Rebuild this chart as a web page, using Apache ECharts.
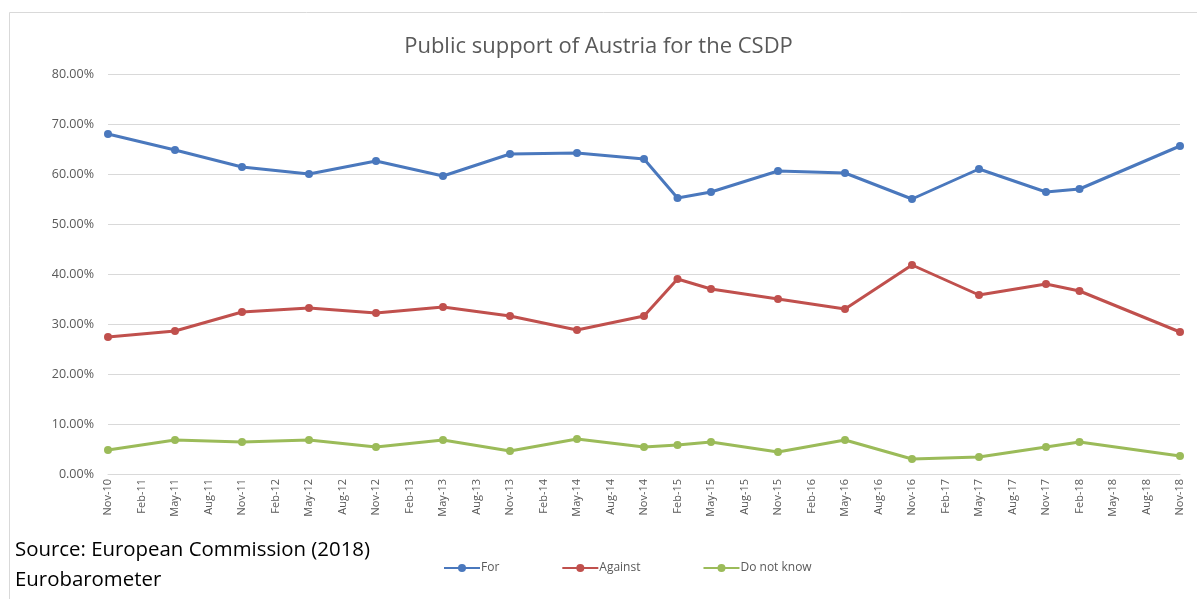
<!DOCTYPE html>
<html>
<head>
<meta charset="utf-8">
<script src="https://cdn.jsdelivr.net/npm/echarts@6/dist/echarts.min.js"></script>
<style>
html,body{margin:0;padding:0;background:#fff;}
#c{width:1197px;height:599px;}
</style>
</head>
<body>
<div id="c"></div>
<script>
const categories = ['Nov-10','Feb-11','May-11','Aug-11','Nov-11','Feb-12','May-12','Aug-12','Nov-12','Feb-13','May-13','Aug-13','Nov-13','Feb-14','May-14','Aug-14','Nov-14','Feb-15','May-15','Aug-15','Nov-15','Feb-16','May-16','Aug-16','Nov-16','Feb-17','May-17','Aug-17','Nov-17','Feb-18','May-18','Aug-18','Nov-18'];
const forValues = [68.0,null,64.8,null,61.4,null,60.0,null,62.6,null,59.6,null,64.0,null,64.2,null,63.0,55.2,56.4,null,60.6,null,60.2,null,55.0,null,61.0,null,56.4,57.0,null,null,65.6];
const againstValues = [27.4,null,28.6,null,32.4,null,33.2,null,32.2,null,33.4,null,31.6,null,28.8,null,31.6,39.0,37.0,null,35.0,null,33.0,null,41.8,null,35.8,null,38.0,36.6,null,null,28.4];
const dontKnowValues = [4.8,null,6.8,null,6.4,null,6.8,null,5.4,null,6.8,null,4.6,null,7.0,null,5.4,5.8,6.4,null,4.4,null,6.8,null,3.0,null,3.4,null,5.4,6.4,null,null,3.6];
const seriesNames = ['For','Against','Do not know'];
const colors = ['#4a78bd','#c0504d','#9bbb59'];

const chart = echarts.init(document.getElementById('c'));
function mk(name, data, color){
  return {
    name: name, type: 'line', data: data, connectNulls: true,
    symbol: 'circle', symbolSize: 8,
    lineStyle: {width: 3, color: color},
    itemStyle: {color: color},
    emphasis: {disabled: true}
  };
}
chart.setOption({
  animation: false,
  backgroundColor: '#fff',
  color: colors,
  title: {
    text: 'Public support of Austria for the CSDP',
    left: 'center', top: 31,
    textStyle: {fontFamily: 'Open Sans', fontSize: 22, fontWeight: 'normal', color: '#595959'}
  },
  grid: {left: 108, right: 17, top: 74, bottom: 125, containLabel: false},
  xAxis: {
    type: 'category', data: categories, boundaryGap: false,
    axisLine: {lineStyle: {color: '#d9d9d9', width: 1}},
    axisTick: {show: false},
    axisLabel: {rotate: 90, interval: 0, fontFamily: 'Open Sans', fontSize: 11, color: '#595959', margin: 5}
  },
  yAxis: {
    type: 'value', min: 0, max: 80, interval: 10,
    axisLine: {show: false}, axisTick: {show: false},
    splitLine: {lineStyle: {color: '#d9d9d9', width: 1}},
    axisLabel: {fontFamily: 'Open Sans', fontSize: 12.5, color: '#595959', margin: 14,
      formatter: v => v.toFixed(2) + '%'}
  },
  legend: {
    data: seriesNames, left: 438, top: 557, itemWidth: 36, itemHeight: 10, itemGap: 62,
    textStyle: {fontFamily: 'Open Sans', fontSize: 12, color: '#595959', padding: [0,0,0,-4]}
  },
  graphic: [
    {type: 'rect', left: 7, top: 10, shape: {width: 1300, height: 700}, style: {fill: 'none', stroke: '#d9d9d9', lineWidth: 1}, silent: true, z: -1},
    {type: 'text', left: 15, top: 540, style: {text: 'Source: European Commission (2018)', fontFamily: 'Open Sans', fontSize: 20.4, fill: '#000'}},
    {type: 'text', left: 15, top: 570, style: {text: 'Eurobarometer', fontFamily: 'Open Sans', fontSize: 20.4, fill: '#000'}}
  ],
  series: [mk(seriesNames[0], forValues, colors[0]), mk(seriesNames[1], againstValues, colors[1]), mk(seriesNames[2], dontKnowValues, colors[2])]
});
</script>
</body>
</html>
